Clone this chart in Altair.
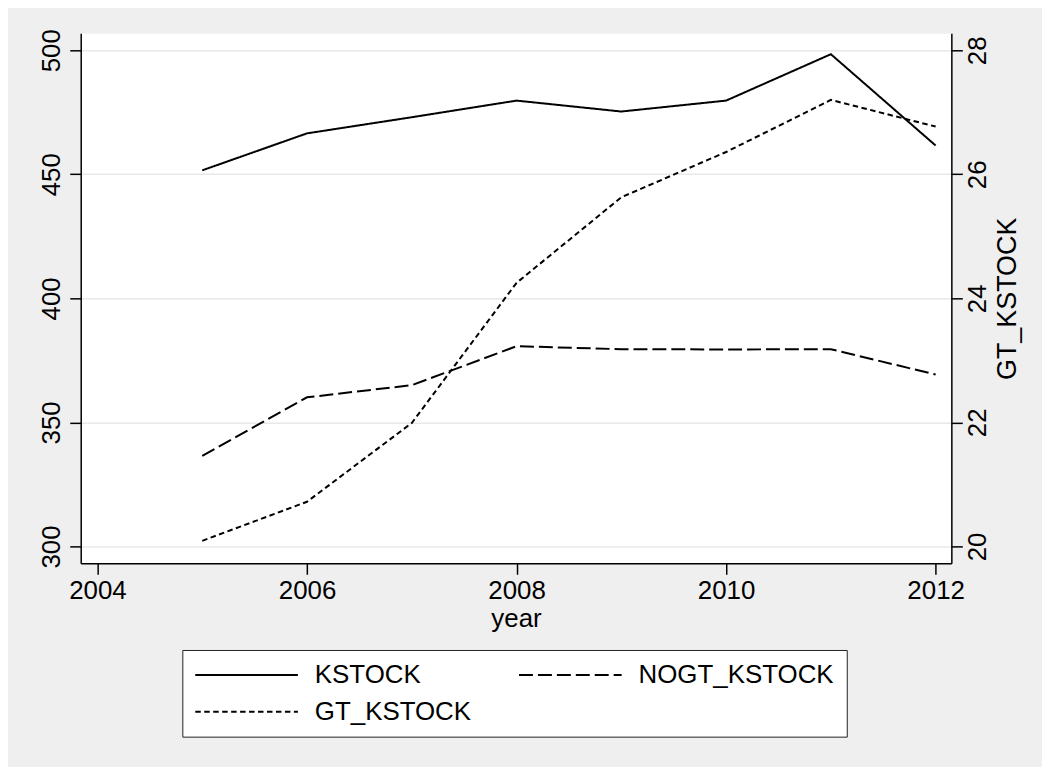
import altair as alt
import pandas as pd

# ---- data ----
years = [2005, 2006, 2007, 2008, 2009, 2010, 2011, 2012]
kstock = [451.6, 466.5, 473.0, 479.7, 475.3, 479.7, 498.4, 461.6]
nogt_kstock = [336.5, 360.1, 365.0, 380.7, 379.5, 379.4, 379.5, 369.3]
gt_kstock = [20.09, 20.72, 21.99, 24.25, 25.63, 26.36, 27.20, 26.77]

series_names = ["KSTOCK", "NOGT_KSTOCK", "GT_KSTOCK"]
x_ticks = [2004, 2006, 2008, 2010, 2012]
left_ticks = [300, 350, 400, 450, 500]
right_ticks = [20, 22, 24, 26, 28]

left_df = pd.DataFrame({
    "year": years + years,
    "value": kstock + nogt_kstock,
    "series": ["KSTOCK"] * len(years) + ["NOGT_KSTOCK"] * len(years),
})
right_df = pd.DataFrame({
    "year": years,
    "value": gt_kstock,
    "series": ["GT_KSTOCK"] * len(years),
})

FONT = "Liberation Sans"

legend = alt.Legend(
    title=None, orient="none", legendX=102, legendY=619,
    direction="horizontal", columns=2, gridAlign="all",
    symbolType="stroke", symbolSize=10609, symbolStrokeWidth=2,
    symbolStrokeColor="black", labelFont=FONT, labelFontSize=26,
    labelColor="black", labelOffset=16, labelLimit=500,
    fillColor="white", strokeColor="#222222", padding=12,
    columnPadding=7, rowPadding=11, clipHeight=26,
)

dash = alt.StrokeDash(
    "series:N",
    scale=alt.Scale(domain=series_names, range=[[1, 0], [14, 5], [5.5, 3.5]]),
    legend=legend,
)

x_enc = alt.X(
    "year:Q",
    scale=alt.Scale(domain=[2003.84, 2012.15], nice=False, zero=False),
    axis=alt.Axis(
        values=x_ticks, format="d", title="year", grid=False,
        labelFont=FONT, labelFontSize=26, labelColor="black", labelPadding=3,
        tickSize=11, tickWidth=1.5, tickColor="black",
        domainColor="black", domainWidth=1.5,
        titleFont=FONT, titleFontSize=26, titleFontWeight="normal",
        titleColor="black", titlePadding=2,
    ),
)

left_layer = alt.Chart(left_df).mark_line(strokeWidth=2, color="black").encode(
    x=x_enc,
    y=alt.Y(
        "value:Q",
        scale=alt.Scale(domain=[293.2, 506.8], nice=False, zero=False),
        axis=alt.Axis(
            orient="left", values=left_ticks, title=None,
            labelAngle=270, labelAlign="center", labelBaseline="alphabetic",
            labelFont=FONT, labelFontSize=26, labelColor="black", labelPadding=10,
            tickSize=11, tickWidth=1.5, tickColor="black",
            domainColor="black", domainWidth=1.5,
            grid=True, gridColor="#E8E8E8", gridWidth=1.5,
        ),
    ),
    strokeDash=dash,
    detail="series:N",
)

right_layer = alt.Chart(right_df).mark_line(strokeWidth=2, color="black").encode(
    x=x_enc,
    y=alt.Y(
        "value:Q",
        scale=alt.Scale(domain=[19.727, 28.273], nice=False, zero=False),
        axis=alt.Axis(
            orient="right", values=right_ticks, title="GT_KSTOCK",
            labelAngle=270, labelAlign="center", labelBaseline="top",
            labelFont=FONT, labelFontSize=26, labelColor="black", labelPadding=2,
            tickSize=11, tickWidth=1.5, tickColor="black",
            domainColor="black", domainWidth=1.5, grid=False,
            titleAngle=270, titleBaseline="top", titleFont=FONT,
            titleFontSize=27, titleFontWeight="normal", titleColor="black",
            titlePadding=4,
        ),
    ),
    strokeDash=dash,
)

chart = (
    alt.layer(left_layer, right_layer)
    .resolve_scale(y="independent")
    .properties(
        width=874, height=532,
        autosize=alt.AutoSizeParams(type="none"),
        padding={"left": 73, "top": 24, "right": 91, "bottom": 203},
    )
    .configure(background="#EFEFEF")
    .configure_view(fill="white", stroke="transparent")
)

chart.save("out.html", embed_options={"renderer": "svg", "actions": False})
